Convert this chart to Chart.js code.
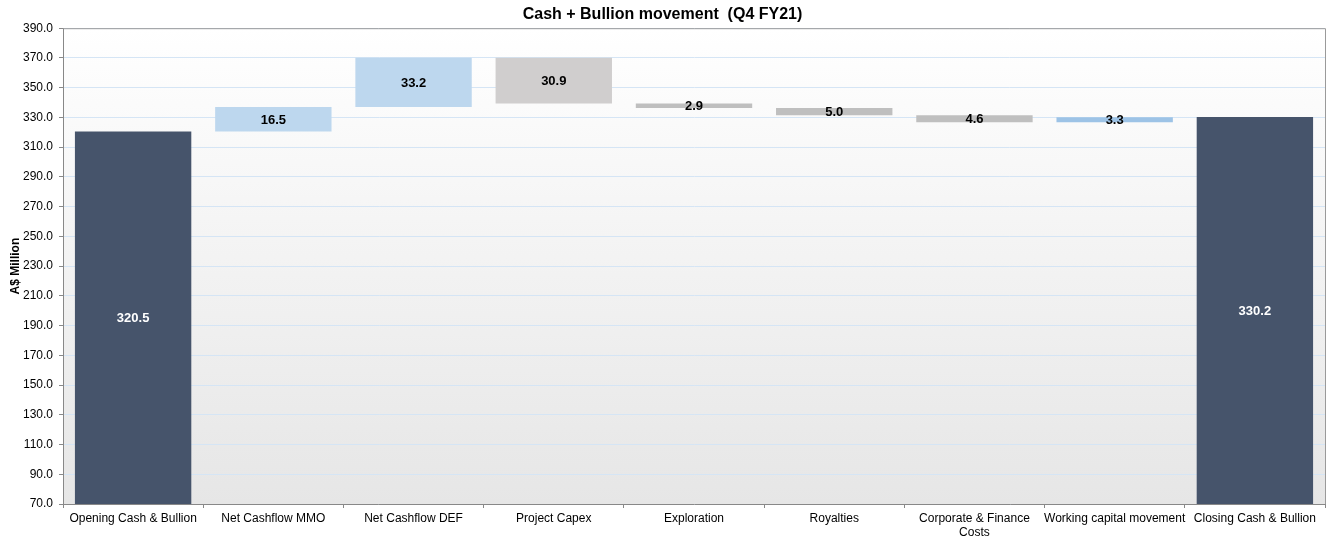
<!DOCTYPE html>
<html>
<head>
<meta charset="utf-8">
<script src="https://cdn.jsdelivr.net/npm/chart.js@4.4.1/dist/chart.umd.min.js"></script>
<style>
  html, body { margin: 0; padding: 0; background: #fff; }
  #wrap { width: 1330px; height: 540px; }
</style>
</head>
<body>
<div id="wrap"><canvas id="chart"></canvas></div>
<script>
const categories = ['Opening Cash & Bullion', 'Net Cashflow MMO', 'Net Cashflow DEF', 'Project Capex', 'Exploration',
    'Royalties', ['Corporate & Finance', 'Costs'], 'Working capital movement', 'Closing Cash & Bullion'];
// floating bar ranges
const barLow  = [0, 320.5, 337.0, 339.3, 336.4, 331.4, 326.8, 326.8, 0];
const barHigh = [320.5, 337.0, 370.2, 370.2, 339.3, 336.4, 331.4, 330.1, 330.2];
const valueLabels = ['320.5', '16.5', '33.2', '30.9', '2.9', '5.0', '4.6', '3.3', '330.2'];
const barColors = ['#46546b', '#bdd7ee', '#bdd7ee', '#d0cece', '#bfbfbf', '#bfbfbf', '#bfbfbf', '#9dc3e6', '#46546b'];
const labelColors = ['#fff', '#000', '#000', '#000', '#000', '#000', '#000', '#000', '#fff'];

const FONT = "'Liberation Sans', Arial, sans-serif";

const plotBackground = {
    id: 'plotBackground',
    beforeDraw(chart) {
        const { ctx, chartArea: a } = chart;
        const g = ctx.createLinearGradient(0, a.top, 0, a.bottom);
        g.addColorStop(0, '#ffffff');
        g.addColorStop(1, '#e6e6e6');
        ctx.save();
        ctx.fillStyle = g;
        ctx.fillRect(a.left, a.top, a.right - a.left, a.bottom - a.top);
        ctx.restore();
    },
    afterDraw(chart) {
        // top and right border of the plot area
        const { ctx, chartArea: a } = chart;
        ctx.save();
        ctx.strokeStyle = '#9a9a9a';
        ctx.lineWidth = 1;
        ctx.beginPath();
        ctx.moveTo(a.left, a.top + 0.5);
        ctx.lineTo(a.right + 0.5, a.top + 0.5);
        ctx.lineTo(a.right + 0.5, a.bottom);
        ctx.stroke();
        ctx.restore();
    }
};

const barLabels = {
    id: 'barLabels',
    afterDatasetsDraw(chart) {
        const { ctx } = chart;
        const meta = chart.getDatasetMeta(0);
        ctx.save();
        ctx.font = 'bold 13px ' + FONT;
        ctx.textAlign = 'center';
        ctx.textBaseline = 'middle';
        meta.data.forEach((bar, i) => {
            const top = Math.max(bar.y, chart.chartArea.top);
            const bottom = Math.min(bar.base, chart.chartArea.bottom);
            ctx.fillStyle = labelColors[i];
            ctx.fillText(valueLabels[i], bar.x, (top + bottom) / 2 + 1);
        });
        ctx.restore();
    }
};

new Chart(document.getElementById('chart'), {
    type: 'bar',
    data: {
        labels: categories,
        datasets: [{
            data: barLow.map((lo, i) => [lo, barHigh[i]]),
            backgroundColor: barColors,
            borderWidth: 0,
            barPercentage: 0.83,
            categoryPercentage: 1
        }]
    },
    options: {
        responsive: true,
        maintainAspectRatio: false,
        animation: false,
        layout: { padding: { left: 0, right: 5, top: 0, bottom: 0 } },
        plugins: {
            legend: { display: false },
            tooltip: { enabled: false },
            title: {
                display: true,
                text: 'Cash + Bullion movement  (Q4 FY21)',
                color: '#000',
                font: { family: FONT, size: 16, weight: 'bold' },
                padding: { top: 5, bottom: 4 }
            }
        },
        scales: {
            x: {
                offset: true,
                grid: {
                    offset: true,
                    drawOnChartArea: false,
                    drawTicks: true,
                    tickLength: 4,
                    tickColor: '#888'
                },
                border: { color: '#888' },
                ticks: {
                    color: '#000',
                    font: { family: FONT, size: 12 },
                    maxRotation: 0,
                    autoSkip: false,
                    padding: 3
                },
                afterFit(scale) { scale.height = 36; }
            },
            y: {
                min: 70,
                max: 390,
                ticks: {
                    stepSize: 20,
                    color: '#000',
                    font: { family: FONT, size: 12 },
                    padding: 6,
                    callback: v => v.toFixed(1)
                },
                grid: {
                    color: '#d5e5f5',
                    tickColor: '#888',
                    tickLength: 4
                },
                border: { color: '#888' },
                title: {
                    display: true,
                    text: 'A$ Million',
                    color: '#000',
                    font: { family: FONT, size: 12, weight: 'bold' },
                    padding: { top: 8, bottom: 2 }
                },
                afterFit(scale) { scale.width = 63; }
            }
        }
    },
    plugins: [plotBackground, barLabels]
});
</script>
</body>
</html>
